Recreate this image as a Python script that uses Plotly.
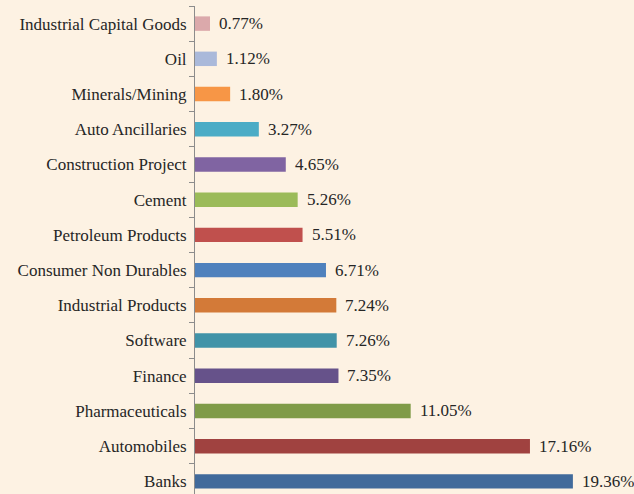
import plotly.graph_objects as go

categories = ["Banks", "Automobiles", "Pharmaceuticals", "Finance", "Software",
              "Industrial Products", "Consumer Non Durables", "Petroleum Products",
              "Cement", "Construction Project", "Auto Ancillaries", "Minerals/Mining",
              "Oil", "Industrial Capital Goods"]
values = [19.36, 17.16, 11.05, 7.35, 7.26, 7.24, 6.71, 5.51, 5.26, 4.65, 3.27, 1.80, 1.12, 0.77]
colors = ["#416a9b", "#a04240", "#7f9b48", "#66528a", "#4193a8", "#d37a38",
          "#4f81bd", "#c0504d", "#9bbb59", "#8064a2", "#4bacc6", "#f79646",
          "#aab9da", "#dba9ab"]

BG = "#fdf2e3"
FONT = "Liberation Serif, Times New Roman, serif"

fig = go.Figure(go.Bar(
    y=categories, x=values, orientation="h",
    marker=dict(color=colors, line=dict(width=0)),
    hoverinfo="skip",
))

for c, v in zip(categories, values):
    fig.add_annotation(x=v, y=c, text=f"{v:.2f}%", xanchor="left", yanchor="middle",
                       xshift=7, showarrow=False,
                       font=dict(family=FONT, size=17, color="#262626"))

fig.update_layout(
    width=634, height=494,
    margin=dict(l=195, r=0, t=6, b=0),
    paper_bgcolor=BG, plot_bgcolor=BG,
    bargap=0.59,
    showlegend=False,
    font=dict(family=FONT, size=17, color="#262626"),
)
fig.update_xaxes(range=[0, 22.49], visible=False, showgrid=False, zeroline=False)
fig.update_yaxes(range=[-0.358, 13.5], categoryorder="array", categoryarray=categories,
                 showline=True, linecolor="#8c8c8c", linewidth=1,
                 ticks="outside", tickson="boundaries", ticklen=5, tickcolor="#8c8c8c",
                 ticklabelstandoff=4, showgrid=False, zeroline=False,
                 tickfont=dict(family=FONT, size=17, color="#262626"))

fig.write_html("out.html", config={"displayModeBar": False},
               post_script="document.body.style.margin='0';document.body.style.overflow='hidden';")
